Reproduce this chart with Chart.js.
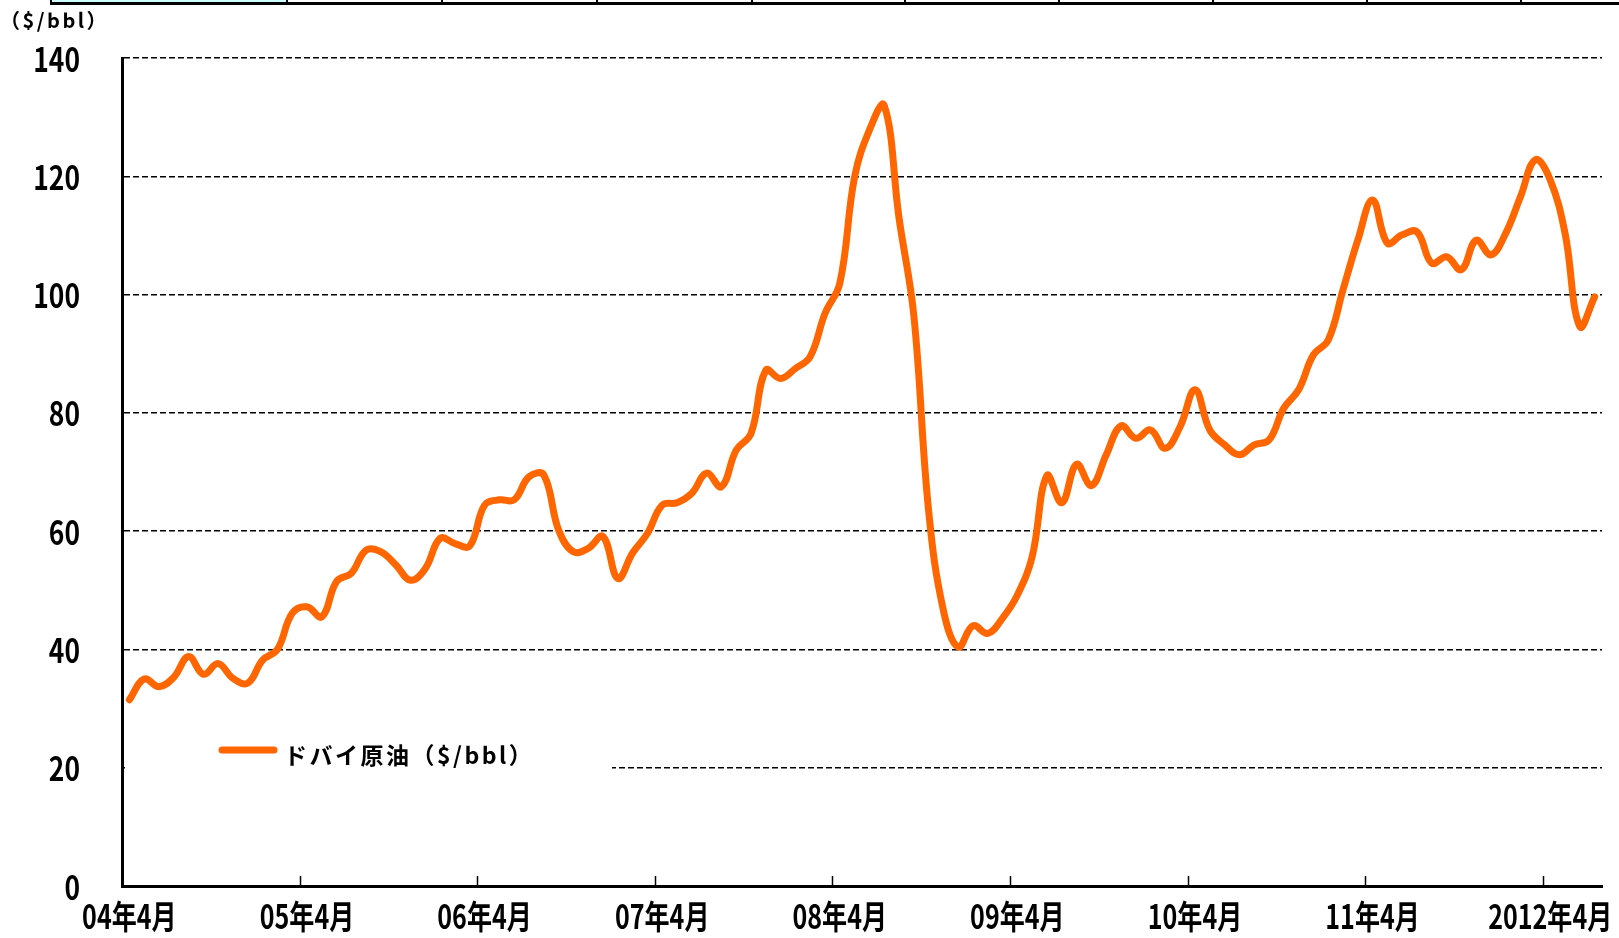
<!DOCTYPE html>
<html lang="ja">
<head>
<meta charset="utf-8">
<title>ドバイ原油</title>
<script src="https://cdn.jsdelivr.net/npm/chart.js@4/dist/chart.umd.min.js"></script>
<style>
  html, body { margin: 0; padding: 0; background: #fff; }
  #wrap { position: relative; width: 1619px; height: 938px; overflow: hidden; }
  /* 上の表の切れ端 */
  #topline { position: absolute; left: 50px; top: 2px; width: 1569px; height: 3px; background: #000; }
  #topcell { position: absolute; left: 50px; top: 0; width: 236px; height: 2px; background: #ccffff; border-left: 2px solid #000; }
  .div { position: absolute; top: 0; width: 2px; height: 3px; background: #000; }
</style>
</head>
<body>
<div id="wrap">
  <canvas id="oilChart"></canvas>
  <div id="topcell"></div>
  <div id="topline"></div>
</div>
<script>
// データ
const seriesLabel = 'ドバイ原油（$/bbl）';
const unitLabel = '（$/bbl）';
const xTickLabels = ['04年4月', '05年4月', '06年4月', '07年4月', '08年4月', '09年4月', '10年4月', '11年4月', '2012年4月'];
const yTicks = [0, 20, 40, 60, 80, 100, 120, 140];

// 2004年4月〜2012年7月 月次
const dubai = [
  31.5, 35.0, 33.7, 35.3, 38.8, 35.8, 37.6, 35.1, 34.3, 38.2, 40.0, 46.1,
  47.2, 45.5, 51.5, 52.9, 56.8, 56.5, 54.3, 51.7, 53.7, 58.8, 57.9, 57.5,
  64.4, 65.3, 65.3, 69.2, 69.5, 60.2, 56.5, 57.1, 59.1, 52.0, 56.3, 59.6,
  64.4, 64.8, 66.4, 69.8, 67.5, 73.7, 76.5, 87.2, 85.8, 87.5, 89.5, 96.8,
  101.9, 119.9, 127.8, 132.0, 113.0, 96.5, 63.5, 46.6, 40.4, 44.0, 42.7, 45.3,
  49.2, 55.7, 69.4, 64.8, 71.3, 67.7, 72.9, 77.8, 75.7, 77.1, 74.0, 77.7,
  83.9, 77.1, 74.6, 72.9, 74.6, 75.4, 80.8, 83.9, 89.8, 92.3, 100.8, 109.2,
  116.0, 108.7, 110.1, 110.6, 105.3, 106.4, 104.2, 109.2, 106.7, 110.4, 116.6, 122.8,
  119.4, 110.4, 94.6, 99.6
];

// 月のカテゴリ
const months = [];
for (let i = 0; i < dubai.length; i++) {
    const m = 3 + i;
    const y = 2004 + Math.floor(m / 12);
    months.push(y + '/' + ((m % 12) + 1));
}

// 上の表の区切り線
[286, 441, 596, 751, 904, 1058, 1212, 1366, 1520].forEach(x => {
    const d = document.createElement('div');
    d.className = 'div';
    d.style.left = x + 'px';
    document.getElementById('wrap').appendChild(d);
});

const jpFont = "'Noto Sans CJK JP', sans-serif";

// 目盛りラベル（縦長の字形にするため横に縮める）
function drawNarrow(ctx, text, x, y, sx, align) {
    ctx.save();
    ctx.translate(x, y);
    ctx.scale(sx, 1);
    ctx.textAlign = align;
    ctx.fillText(text, 0, 0);
    ctx.restore();
}

// 凡例・単位・目盛り
const extras = {
    id: 'extras',
    beforeDatasetsDraw(chart) {
        const ctx = chart.ctx;
        ctx.save();
        ctx.fillStyle = '#fff';
        ctx.fillRect(125, 722, 487, 58);
        ctx.restore();
    },
    afterDatasetsDraw(chart) {
        const ctx = chart.ctx;
        const xs = chart.scales.x;
        const ys = chart.scales.y;
        const area = chart.chartArea;
        const half = (xs.getPixelForValue(1) - xs.getPixelForValue(0)) / 2;

        // x軸の目盛り（内向き）
        ctx.save();
        ctx.strokeStyle = '#000';
        ctx.lineWidth = 1.5;
        for (let k = 1; k < xTickLabels.length; k++) {
            const x = Math.round(xs.getPixelForValue(k * 12) - half) + 0.5;
            ctx.beginPath();
            ctx.moveTo(x, area.bottom);
            ctx.lineTo(x, area.bottom - 10);
            ctx.stroke();
        }
        ctx.restore();

        // 軸ラベル
        ctx.save();
        ctx.fillStyle = '#000';
        ctx.textBaseline = 'middle';
        ctx.font = 'bold 33px ' + jpFont;
        yTicks.forEach(v => drawNarrow(ctx, String(v), area.left - 42, ys.getPixelForValue(v) + 1, 0.8, 'right'));
        xTickLabels.forEach((t, k) => drawNarrow(ctx, t, xs.getPixelForValue(k * 12), 916, 0.76, 'center'));
        ctx.restore();

        // 凡例
        const ds = chart.data.datasets[0];
        ctx.save();
        ctx.strokeStyle = ds.borderColor;
        ctx.lineWidth = 7;
        ctx.lineCap = 'round';
        ctx.beginPath();
        ctx.moveTo(222, 750);
        ctx.lineTo(274, 750);
        ctx.stroke();
        ctx.fillStyle = '#000';
        ctx.font = 'bold 23px ' + jpFont;
        ctx.textBaseline = 'middle';
        ctx.letterSpacing = '2.5px';
        ctx.fillText(ds.label, 284, 755);
        ctx.restore();

        // 単位
        ctx.save();
        ctx.fillStyle = '#000';
        ctx.font = 'bold 20px ' + jpFont;
        ctx.textBaseline = 'middle';
        ctx.letterSpacing = '2.5px';
        ctx.fillText(unitLabel, 0, 20);
        ctx.restore();
    }
};

new Chart(document.getElementById('oilChart'), {
    type: 'line',
    data: {
        labels: months,
        datasets: [{
            label: seriesLabel,
            data: dubai,
            borderColor: '#ff6600',
            borderWidth: 7,
            borderCapStyle: 'round',
            borderJoinStyle: 'round',
            pointRadius: 0,
            tension: 0.4,
            fill: false
        }]
    },
    options: {
        responsive: true,
        maintainAspectRatio: false,
        animation: false,
        layout: { padding: { top: 58, right: 17, left: 0, bottom: 0 } },
        plugins: {
            legend: { display: false },
            tooltip: { enabled: false }
        },
        scales: {
            x: {
                offset: true,
                grid: { display: false },
                border: { display: true, color: '#000', width: 3 },
                ticks: { display: false, autoSkip: false },
                afterFit(scale) { scale.height = 52; }
            },
            y: {
                min: 0,
                max: 140,
                afterBuildTicks(scale) { scale.ticks = yTicks.map(v => ({ value: v })); },
                grid: { color: '#000', lineWidth: 1.5, drawTicks: false },
                border: { display: true, color: '#000', width: 3, dash: [6, 3] },
                ticks: { display: false },
                afterFit(scale) { scale.width = 122; }
            }
        }
    },
    plugins: [extras]
});
</script>
</body>
</html>
